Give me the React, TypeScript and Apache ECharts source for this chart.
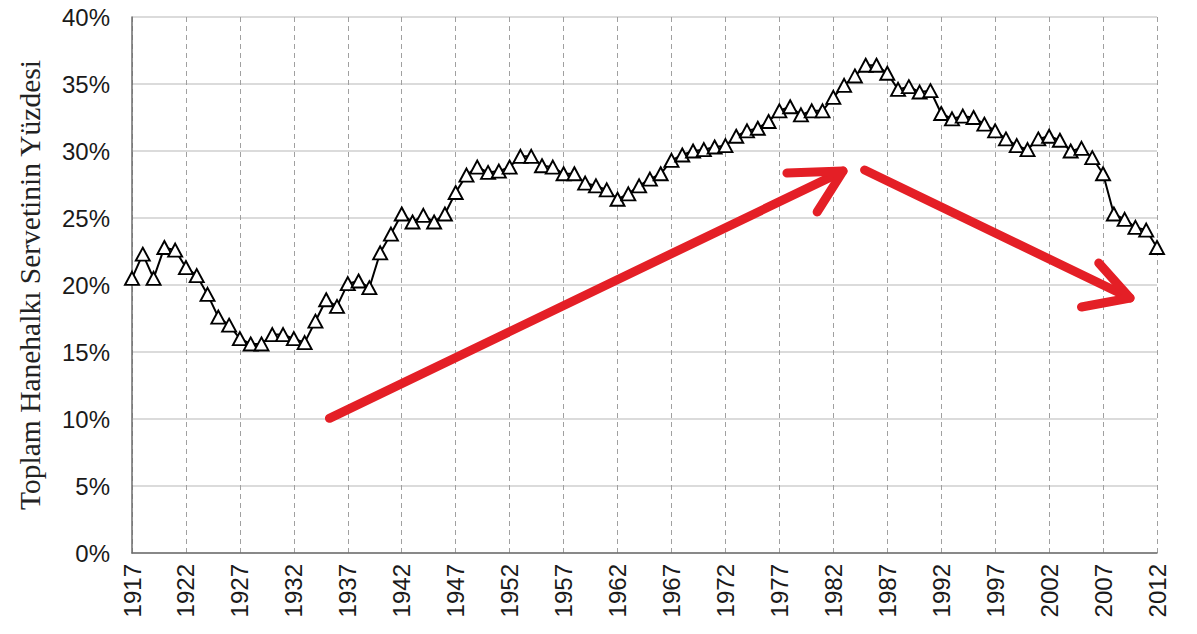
import React, { useEffect, useRef } from "react";
import * as echarts from "echarts";

const years: string[] = [
  "1917","1918","1919","1920","1921","1922","1923","1924","1925","1926",
  "1927","1928","1929","1930","1931","1932","1933","1934","1935","1936",
  "1937","1938","1939","1940","1941","1942","1943","1944","1945","1946",
  "1947","1948","1949","1950","1951","1952","1953","1954","1955","1956",
  "1957","1958","1959","1960","1961","1962","1963","1964","1965","1966",
  "1967","1968","1969","1970","1971","1972","1973","1974","1975","1976",
  "1977","1978","1979","1980","1981","1982","1983","1984","1985","1986",
  "1987","1988","1989","1990","1991","1992","1993","1994","1995","1996",
  "1997","1998","1999","2000","2001","2002","2003","2004","2005","2006",
  "2007","2008","2009","2010","2011","2012",
];

const wealthShare: number[] = [
  20.5, 22.3, 20.5, 22.8, 22.6, 21.3, 20.7, 19.3, 17.6, 17.0,
  16.0, 15.6, 15.6, 16.3, 16.3, 16.0, 15.7, 17.3, 18.9, 18.4,
  20.1, 20.3, 19.8, 22.4, 23.8, 25.3, 24.7, 25.2, 24.7, 25.3,
  26.9, 28.2, 28.8, 28.4, 28.5, 28.8, 29.6, 29.6, 28.9, 28.8,
  28.3, 28.3, 27.6, 27.4, 27.1, 26.4, 26.8, 27.4, 27.9, 28.3,
  29.3, 29.7, 30.0, 30.1, 30.3, 30.4, 31.1, 31.5, 31.7, 32.2,
  33.0, 33.3, 32.7, 33.0, 33.0, 34.0, 34.9, 35.6, 36.4, 36.4,
  35.8, 34.6, 34.8, 34.4, 34.5, 32.8, 32.4, 32.6, 32.5, 32.0,
  31.5, 30.9, 30.4, 30.1, 30.9, 31.1, 30.8, 30.0, 30.2, 29.5,
  28.3, 25.3, 24.9, 24.3, 24.1, 22.8,
];

const yAxisTitle = "Toplam Hanehalkı Servetinin Yüzdesi";

// annotation arrows, in [year, percent]
const arrowUpShaft: number[][] = [[1935.3, 10.05], [1982.9, 28.5]];
const arrowUpHead: number[][] = [[1977.7, 28.36], [1982.9, 28.5], [1980.5, 25.45]];
const arrowDownShaft: number[][] = [[1984.9, 28.58], [2009.5, 19.03]];
const arrowDownHead: number[][] = [[2006.6, 21.64], [2009.5, 19.03], [2005.0, 18.36]];

export default function App() {
  const ref = useRef<HTMLDivElement>(null);
  useEffect(() => {
    if (!ref.current) return;
    const chart = echarts.init(ref.current, null, { renderer: "svg" });
    const labelFont = "'Liberation Sans', Arial, sans-serif";
    chart.setOption({
      animation: false,
      backgroundColor: "#ffffff",
      grid: { left: 132, right: 40, top: 17, bottom: 81, containLabel: false },
      xAxis: {
        type: "category",
        data: years,
        boundaryGap: false,
        axisLine: { show: true, lineStyle: { color: "#6e6e6e", width: 1.5 } },
        axisTick: { show: false },
        axisLabel: {
          interval: 4,
          rotate: 90,
          margin: 11,
          color: "#1a1a1a",
          fontSize: 24,
          fontFamily: labelFont,
        },
        splitLine: {
          show: true,
          interval: 4,
          lineStyle: { color: "#a0a0a0", width: 1, type: [5, 4] },
        },
      },
      yAxis: {
        type: "value",
        min: 0,
        max: 40,
        interval: 5,
        name: yAxisTitle,
        nameLocation: "middle",
        nameRotate: 90,
        nameGap: 87,
        nameTextStyle: {
          fontFamily: "'Liberation Serif', 'Times New Roman', serif",
          fontSize: 29.5,
          color: "#222222",
        },
        axisLine: { show: true, lineStyle: { color: "#6e6e6e", width: 1.5 } },
        axisTick: { show: false },
        axisLabel: {
          formatter: "{value}%",
          margin: 22,
          color: "#1a1a1a",
          fontSize: 24,
          fontFamily: labelFont,
        },
        splitLine: { show: true, lineStyle: { color: "#cfcfcf", width: 1.5 } },
      },
      series: [
        {
          type: "line",
          data: wealthShare,
          symbol: "triangle",
          symbolSize: [14, 13],
          showAllSymbol: true,
          lineStyle: { color: "#000000", width: 2 },
          itemStyle: { color: "#ffffff", borderColor: "#000000", borderWidth: 1.9 },
          z: 3,
        },
      ],
    });

    const p0 = chart.convertToPixel({ gridIndex: 0 }, [0, 0]) as number[];
    const p1 = chart.convertToPixel({ gridIndex: 0 }, [years.length - 1, 40]) as number[];
    const firstYear = Number(years[0]);
    const lastYear = Number(years[years.length - 1]);
    const toPx = (pt: number[]) => [
      p0[0] + ((pt[0] - firstYear) / (lastYear - firstYear)) * (p1[0] - p0[0]),
      p0[1] + (pt[1] / 40) * (p1[1] - p0[1]),
    ];
    const red = "#e41f26";
    const st = { stroke: red, lineWidth: 9, lineCap: "round", lineJoin: "round", fill: null };
    const shaft = (s: number[][]) => {
      const a = toPx(s[0]);
      const b = toPx(s[1]);
      return { type: "line", shape: { x1: a[0], y1: a[1], x2: b[0], y2: b[1] }, style: st, z: 10 };
    };
    const head = (h: number[][]) => ({
      type: "polyline",
      shape: { points: h.map(toPx) },
      style: st,
      z: 10,
    });
    chart.setOption({
      graphic: [shaft(arrowUpShaft), head(arrowUpHead), shaft(arrowDownShaft), head(arrowDownHead)],
    });

    return () => chart.dispose();
  }, []);
  return (
    <div
      ref={ref}
      style={{ position: "fixed", left: 0, top: 0, width: 1197, height: 634 }}
    />
  );
}
